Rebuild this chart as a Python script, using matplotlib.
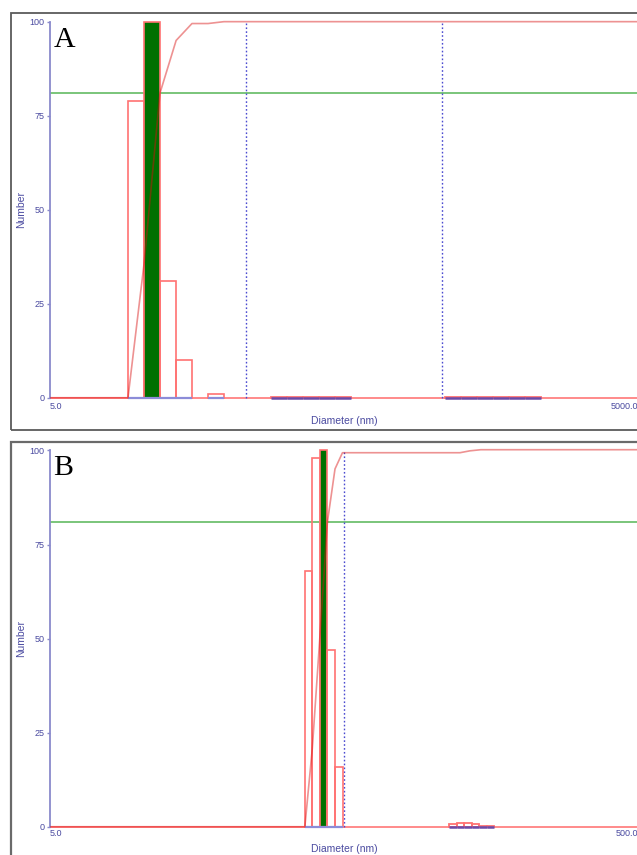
import matplotlib
matplotlib.use('Agg')
import matplotlib.pyplot as plt
from matplotlib.patches import Rectangle
from matplotlib.ticker import NullLocator

# --------------------------------------------------
# DATOS PANEL A (diámetro en nm, bordes inferiores de cada clase)
# --------------------------------------------------
diam_a = [12.5, 15.1, 18.2, 22.0, 32.0]
num_a = [79, 100, 31, 10, 1]
polvo_diam_a = [67.1, 81.0, 97.7, 117.9, 142.3, 518, 625, 754, 910, 1099, 1326]
polvo_num_a = [0.3, 0.3, 0.3, 0.3, 0.3, 0.3, 0.3, 0.3, 0.3, 0.3, 0.3]
paso_a = 1.207
cum_x_a = [5, 12.5, 15.1, 18.2, 22.0, 26.5, 32.0, 38.6, 5000]
cum_y_a = [0, 0, 35.7, 81.0, 95.0, 99.5, 99.5, 100, 100]
marcas_a = [50, 500]
rango_a = [5, 5000]
etiq_a = ['5.0', '5000.0']

# --------------------------------------------------
# DATOS PANEL B
# --------------------------------------------------
diam_b = [36.8, 39.0, 41.4, 43.9, 46.6]
num_b = [68, 98, 100, 47, 16]
polvo_diam_b = [114.1, 121.0, 128.3, 136.1, 144.3, 153.0]
polvo_num_b = [0.6, 1.0, 1.0, 0.6, 0.2, 0.2]
paso_b = 1.0605
cum_x_b = [5, 36.8, 39.0, 41.4, 43.9, 46.6, 49.4, 124, 134, 146, 500]
cum_y_b = [0, 0, 20.7, 50.5, 80.9, 95.1, 99.4, 99.4, 99.9, 100.2, 100.2]
marcas_b = [50]
rango_b = [5, 500]
etiq_b = ['5.0', '500.0']

nivel_verde = 81

AZUL_TXT = '#4a4aa0'
AZUL_EJE = '#8a8acc'
ROJO = '#ff7272'

fig = plt.figure(figsize=(6.37, 8.55), dpi=100)

# marcos de cada ventana
fig.add_artist(Rectangle((11 / 637, (855 - 430) / 855), 1.0, (430 - 13) / 855,
                         transform=fig.transFigure, fill=False,
                         edgecolor='#5a5a5a', lw=1.3))
fig.add_artist(Rectangle((11 / 637, -0.1), 1.0, (855 - 442) / 855 + 0.1,
                         transform=fig.transFigure, fill=False,
                         edgecolor='#6a6a6a', lw=1.6))


def dibujar_panel(ax, diam, num, polvo_d, polvo_n, paso, cx, cy, marcas,
                  rango, etiq, letra, pad_x, y_xlabel):
    ax.set_xscale('log')
    ax.set_xlim(rango)
    ax.set_ylim(-1, 101)

    # línea base roja
    ax.axhline(0, color='#ff8a8a', lw=1.4, zorder=1)

    # barras del histograma
    anchos = [d * (paso - 1) for d in diam]
    barras = ax.bar(diam, num, width=anchos, align='edge', facecolor='none',
                    edgecolor=ROJO, linewidth=1.2, zorder=2)
    i_max = num.index(max(num))
    barras[i_max].set_facecolor('#007000')
    ax.hlines([0] * len(diam), diam, [d * paso for d in diam],
              color='#8c8cd8', lw=1.6, zorder=3)

    # clases casi vacías
    anchos_p = [d * (paso - 1) for d in polvo_d]
    ax.bar(polvo_d, polvo_n, width=anchos_p, align='edge', facecolor='none',
           edgecolor=ROJO, linewidth=1.3, zorder=2)
    ax.hlines([0] * len(polvo_d), polvo_d, [d * paso for d in polvo_d],
              color='#6a4aa8', lw=1.8, zorder=3)

    # marcas verticales punteadas
    ax.vlines(marcas, 0, 100, colors='#4a4ad0', linestyles=(0, (1.2, 1.6)),
              lw=1.0, zorder=1.5)

    # nivel horizontal verde
    ax.axhline(nivel_verde, color='#70c070', lw=1.3, zorder=1)

    # curva acumulada
    ax.plot(cx, cy, color=(0.85, 0.05, 0.05), alpha=0.45, lw=1.2, zorder=4)

    # ejes
    for s in ['top', 'right', 'bottom']:
        ax.spines[s].set_visible(False)
    ax.spines['left'].set_color(AZUL_EJE)
    ax.spines['left'].set_linewidth(1.3)
    ax.spines['left'].set_bounds(0, 100)

    ax.set_yticks([0, 25, 50, 75, 100])
    ax.tick_params(axis='y', colors=AZUL_EJE, labelcolor=AZUL_TXT, length=2,
                   width=1, pad=2, labelsize=6.5)
    ax.set_xticks(rango, etiq)
    ax.xaxis.set_minor_locator(NullLocator())
    ax.tick_params(axis='x', length=0, pad=pad_x, labelcolor=AZUL_TXT,
                   labelsize=6.5)
    lbls = ax.get_xticklabels()
    lbls[0].set_ha('left')
    lbls[-1].set_ha('right')
    for t in ax.get_xticklabels() + ax.get_yticklabels():
        t.set_family('Liberation Sans')

    ax.set_ylabel('Number', color=AZUL_TXT, fontsize=7.5, family='Liberation Sans')
    ax.yaxis.set_label_coords(-0.041, 0.5)
    ax.set_xlabel('Diameter (nm)', color=AZUL_TXT, fontsize=7.5,
                  family='Liberation Sans', va='center')
    ax.xaxis.set_label_coords(0.5, y_xlabel)

    ax.text(0.006, 0.925, letra, transform=ax.transAxes, va='baseline',
            fontsize=21.5, family='Liberation Serif', color='black')


# --------------------------------------------------
# PANEL A
# --------------------------------------------------
ax_a = fig.add_axes([50 / 637, (855 - 401.5) / 855, 588 / 637, 383.6 / 855])
dibujar_panel(ax_a, diam_a, num_a, polvo_diam_a, polvo_num_a, paso_a,
              cum_x_a, cum_y_a, marcas_a, rango_a, etiq_a, 'A', 0, -0.051)

# --------------------------------------------------
# PANEL B
# --------------------------------------------------
ax_b = fig.add_axes([50 / 637, (855 - 830.5) / 855, 588 / 637, 383.8 / 855])
dibujar_panel(ax_b, diam_b, num_b, polvo_diam_b, polvo_num_b, paso_b,
              cum_x_b, cum_y_b, marcas_b, rango_b, etiq_b, 'B', -1, -0.049)

fig.savefig('out.png', dpi=100)
